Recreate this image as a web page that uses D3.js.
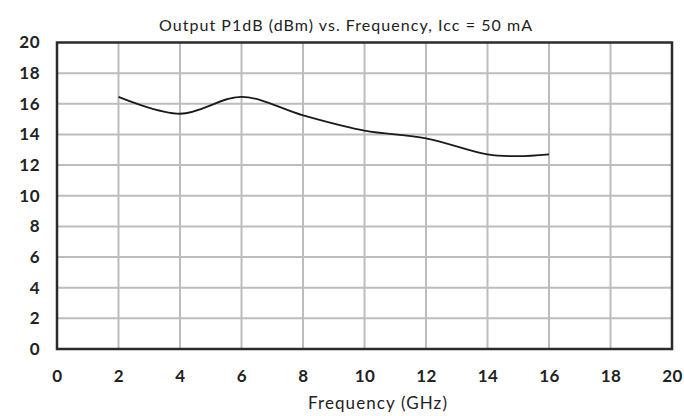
<!DOCTYPE html>
<html><head><meta charset="utf-8">
<script src="https://cdn.jsdelivr.net/npm/d3@7/dist/d3.min.js"></script>
<style>body{margin:0;background:#fff}svg{display:block}text{font-family:Lato,"Open Sans",sans-serif}</style>
</head><body><svg id="c" width="684" height="416"></svg>
<script>
const freq = [2, 4, 6, 8, 10, 12, 14, 15, 16];
const p1db = [16.45, 15.35, 16.45, 15.25, 14.25, 13.75, 12.7, 12.58, 12.7];
const xTicks = [0, 2, 4, 6, 8, 10, 12, 14, 16, 18, 20];
const yTicks = [0, 2, 4, 6, 8, 10, 12, 14, 16, 18, 20];
const title = "Output P1dB (dBm) vs. Frequency, Icc = 50 mA";
const xTitle = "Frequency (GHz)";

const svg = d3.select("#c");
const L = 57, R = 672, T = 42.5, B = 349;
const x = d3.scaleLinear().domain([0, 20]).range([L, R]);
const y = d3.scaleLinear().domain([0, 20]).range([B, T]);

// grid
svg.append("g").selectAll("line").data(xTicks.slice(1, -1)).join("line")
  .attr("x1", d => x(d)).attr("x2", d => x(d)).attr("y1", T).attr("y2", B)
  .attr("stroke", "#bdbdbd").attr("stroke-width", 2);
svg.append("g").selectAll("line").data(yTicks.slice(1, -1)).join("line")
  .attr("y1", d => y(d)).attr("y2", d => y(d)).attr("x1", L).attr("x2", R)
  .attr("stroke", "#bdbdbd").attr("stroke-width", 2);

// frame
svg.append("rect").attr("x", L).attr("y", T).attr("width", R - L).attr("height", B - T)
  .attr("fill", "none").attr("stroke", "#2b2b2b").attr("stroke-width", 2.5);

// axes labels via d3 axis
const xAxis = svg.append("g").attr("transform", `translate(0,${B})`)
  .call(d3.axisBottom(x).tickValues(xTicks).tickSize(0).tickPadding(21).tickFormat(d3.format("d")));
const yAxis = svg.append("g").attr("transform", `translate(${L},0)`)
  .call(d3.axisLeft(y).tickValues(yTicks).tickSize(0).tickPadding(17).tickFormat(d3.format("d")));
[xAxis, yAxis].forEach(a => {
  a.select(".domain").remove();
  a.selectAll("text").attr("font-size", 17).attr("font-weight", "bold").attr("fill", "#222")
   .attr("font-family", "Lato, sans-serif").attr("letter-spacing", 0.5);
});

// line
const line = d3.line().x((d, i) => x(freq[i])).y(d => y(d)).curve(d3.curveCatmullRom.alpha(0.5));
svg.append("path").datum(p1db).attr("d", line).attr("fill", "none")
  .attr("stroke", "#1a1a1a").attr("stroke-width", 1.8);

svg.append("text").attr("x", 346).attr("y", 31).attr("text-anchor", "middle")
  .attr("font-size", 16).attr("letter-spacing", 1.05).attr("fill", "#222").text(title);
svg.append("text").attr("x", 378).attr("y", 409).attr("text-anchor", "middle")
  .attr("font-size", 17).attr("letter-spacing", 1.1).attr("fill", "#222").text(xTitle);
</script></body></html>
